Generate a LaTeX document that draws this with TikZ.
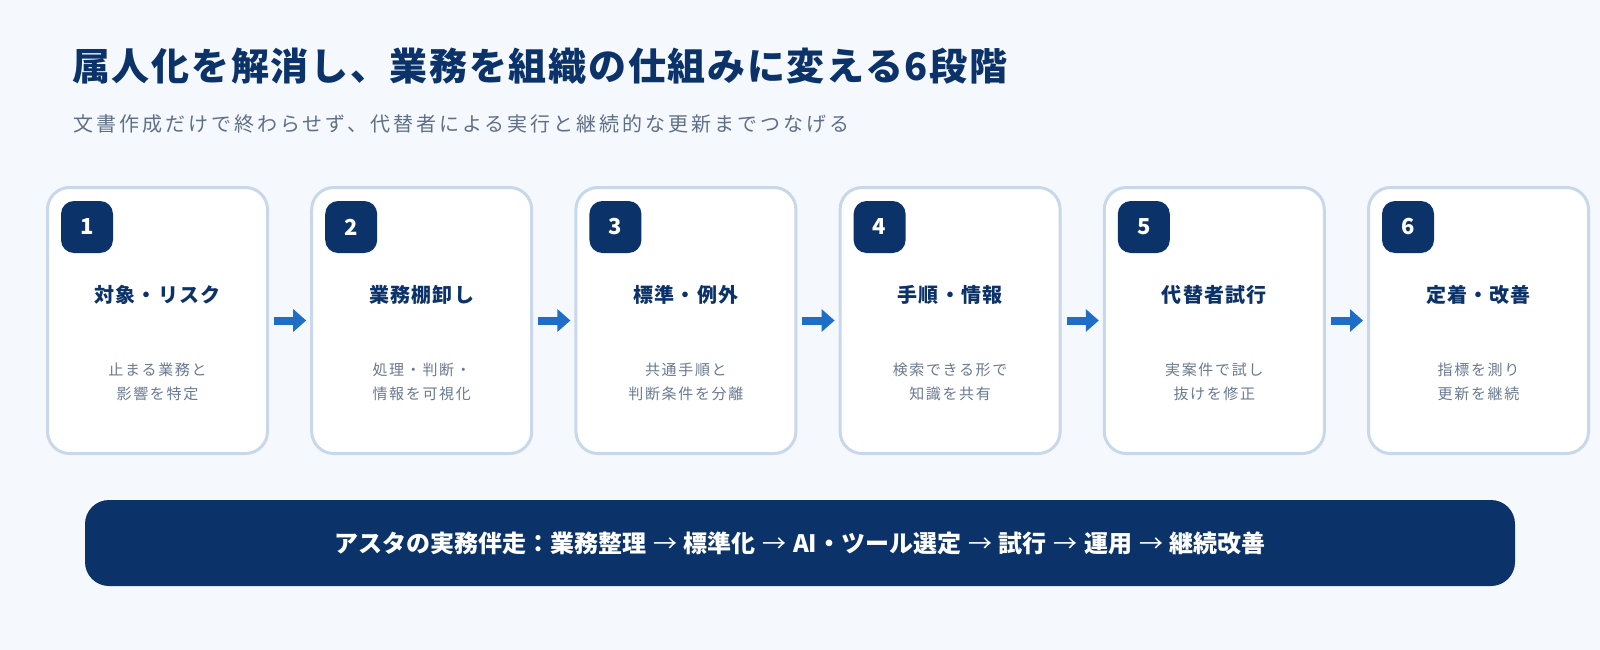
\documentclass[tikz,border=0pt]{standalone}
\usepackage{fontspec}
\setmainfont{Noto Sans CJK JP}
\usetikzlibrary{arrows.meta}
\definecolor{bgc}{HTML}{F5F9FE}
\definecolor{navy}{HTML}{0B3269}
\definecolor{subgray}{HTML}{5F6F86}
\definecolor{descgray}{HTML}{6A7A90}
\definecolor{cardline}{HTML}{C8D8EA}
\definecolor{flowblue}{HTML}{1E6EC8}
\newcommand{\barrow}{\hspace{7pt}{\mdseries\fontsize{24}{28}\selectfont →}\hspace{6.5pt}}
\tikzset{
  card/.style={draw=cardline, line width=3pt, fill=white, rounded corners=22pt,
    minimum width=220pt, minimum height=266pt, inner sep=0pt},
  badge/.style={fill=navy, rounded corners=13pt, minimum size=52pt, inner sep=0pt,
    text=white, font=\fontsize{22}{26}\selectfont\bfseries},
  cardtitle/.style={inner sep=0pt, text=navy, font=\fontsize{20}{24}\selectfont\bfseries\addfontfeatures{LetterSpace=6}},
  carddesc/.style={inner sep=0pt, text=descgray, font=\fontsize{15}{18}\selectfont\addfontfeatures{LetterSpace=11}},
  flow/.style={draw=flowblue, line width=8pt, -{Triangle[length=13pt,width=22pt]}},
  banner/.style={fill=navy, rounded corners=24pt, minimum width=1430pt, minimum height=86pt, inner sep=0pt},
}
\begin{document}
\begin{tikzpicture}[x=1pt,y=-1pt]
\fill[bgc] (0,0) rectangle (1600,650);
\useasboundingbox (0,0) rectangle (1600,650);
\node[anchor=west, inner sep=0pt, text=navy, font=\fontsize{38}{44}\selectfont\bfseries\addfontfeatures{LetterSpace=4.5}] (title) at (72,66) {属人化を解消し、業務を組織の仕組みに変える6段階};
\node[anchor=west, inner sep=0pt, text=subgray, font=\fontsize{20}{24}\selectfont\addfontfeatures{LetterSpace=15}] (subtitle) at (73,124) {文書作成だけで終わらせず、代替者による実行と継続的な更新までつなげる};
\foreach \i/\ttl/\da/\db [count=\k from 0] in {
  1/対象・リスク/止まる業務と/影響を特定,
  2/業務棚卸し/処理・判断・/情報を可視化,
  3/標準・例外/共通手順と/判断条件を分離,
  4/手順・情報/検索できる形で/知識を共有,
  5/代替者試行/実案件で試し/抜けを修正,
  6/定着・改善/指標を測り/更新を継続}{
  \pgfmathsetmacro{\cx}{157.5+264.2*\k}
  \pgfmathsetmacro{\bx}{87+264.2*\k}
  \node[card] (c\i) at (\cx,320.5) {};
  \node[badge] (b\i) at (\bx,227) {\i};
  \node[cardtitle] (t\i) at (\cx,295) {\ttl};
  \node[carddesc] (da\i) at (\cx,370) {\da};
  \node[carddesc] (db\i) at (\cx,394) {\db};
}
\foreach \a/\b in {1/2,2/3,3/4,4/5,5/6}{
  \draw[flow] ([xshift=5pt]c\a.east) -- ([xshift=-4pt]c\b.west);
}
\node[banner] (band) at (800,543) {};
\node[inner sep=0pt, text=white, font=\fontsize{24}{28}\selectfont\bfseries] (bandtext) at (band.center) {アスタの実務伴走：業務整理\barrow 標準化\barrow AI・ツール選定\barrow 試行\barrow 運用\barrow 継続改善};
\end{tikzpicture}
\end{document}
